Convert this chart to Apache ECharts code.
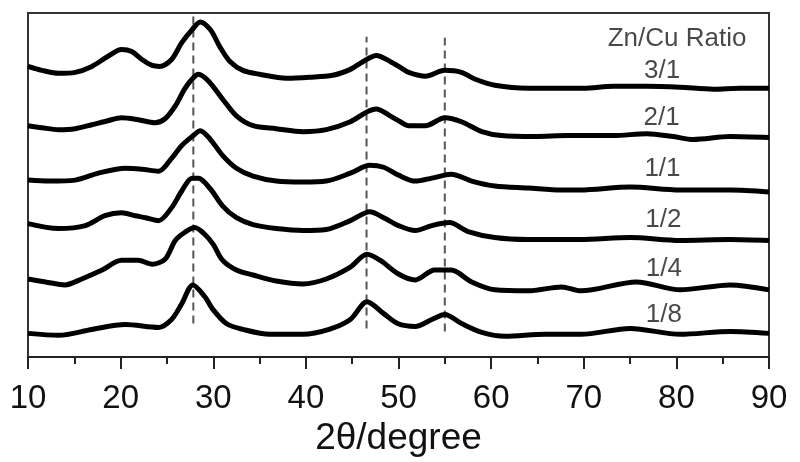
<!DOCTYPE html>
<html>
<head>
<meta charset="utf-8">
<script src="https://cdn.jsdelivr.net/npm/echarts@6/dist/echarts.min.js"></script>
<style>html,body{margin:0;padding:0;background:#fff}#c{width:800px;height:462px}</style>
</head>
<body>
<div id="c"></div>
<script>
// 2θ (degree) vs stacked intensity (offset units)
const ratio31 = [[10,294],[11.5,290],[13.3,287],[15.1,288],[16.9,294],[18.6,304],[20.1,311],[21.2,309],[22.3,301],[23.4,295],[24.2,294],[25.5,301],[26.6,318],[27.7,331],[28.6,339],[29.7,331],[30.7,314],[31.8,299],[33.2,290],[35.0,286],[37.9,282],[40.4,283],[42.9,285],[44.8,291],[46.2,299],[47.6,305],[49.1,299],[50.2,293],[51.1,288],[52.9,284],[55.0,290],[56.8,288],[58.3,281],[60.4,275],[64.0,272],[67.6,272],[70.0,272],[73.2,274],[76.8,274],[80.4,273],[84.0,271],[86.9,272],[90,272]];
const ratio21 = [[10,234],[11.5,232],[13.3,230],[15.1,231],[16.9,235],[18.6,239],[20.1,242],[21.9,240],[23.7,237],[24.8,241],[25.9,254],[26.9,271],[27.7,281],[28.4,286],[29.5,279],[31.0,261],[32.5,244],[34.3,234],[36.8,231],[39.7,228],[42.2,230],[44.8,238],[46.6,248],[47.6,251],[49.1,244],[50.2,238],[51.1,234],[52.9,234],[55.0,242],[56.8,238],[59.0,228],[61.1,224],[64.7,223],[68.3,224],[73.2,224],[76.8,226],[79.7,223],[81.8,220],[85.8,223],[90,222]];
const ratio11 = [[10,179],[12.3,178],[15.1,179],[17.6,186],[20.5,191],[22.3,190],[24.1,188],[25.5,201],[26.6,214],[27.7,223],[28.6,229],[29.7,220],[31.0,204],[32.5,191],[34.3,183],[36.8,178],[39.7,177],[42.2,178],[44.8,186],[46.9,194],[48.4,192],[50.0,184],[51.8,178],[53.6,181],[55.7,185],[57.9,178],[60.4,173],[64.0,171],[67.6,169],[69.6,169],[75.0,172],[80.4,169],[85.8,169],[90,167]];
const ratio12 = [[10,135],[13.3,130],[16.2,133],[18.3,143],[20.1,146],[21.6,143],[22.7,141],[24.1,138],[25.5,151],[26.6,168],[27.7,181],[28.4,181],[29.7,170],[31.0,153],[32.5,141],[34.3,134],[36.8,130],[39.7,128],[42.2,129],[44.8,138],[46.9,147],[48.4,141],[50.0,133],[51.8,128],[53.6,133],[55.5,136],[57.5,127],[60.4,121],[64.0,119],[67.6,119],[69.6,119],[75.0,121],[80.4,118],[85.8,119],[90,118]];
const ratio14 = [[10,79],[11.9,76],[14.0,73],[15.8,79],[18.0,88],[20.1,98],[21.9,98],[23.4,94],[24.8,99],[25.9,118],[26.9,126],[28.0,131],[29.1,124],[30.0,114],[31.0,98],[32.5,88],[34.3,83],[36.8,77],[39.7,74],[42.2,79],[44.8,91],[46.6,104],[48.0,98],[50.0,84],[51.8,78],[53.9,88],[55.7,88],[57.9,76],[60.4,68],[64.0,67],[67.6,71],[69.7,67],[75.7,76],[80.4,68],[85.8,73],[90,68]];
const ratio18 = [[10,24],[13.3,22],[16.9,28],[20.5,33],[24.1,30],[25.5,38],[26.6,54],[27.8,73],[29.1,61],[29.9,49],[31.4,34],[33.2,28],[36.1,23],[39.7,23],[42.5,28],[44.8,38],[46.6,56],[48.4,44],[49.9,34],[51.8,31],[53.6,38],[55.0,43],[56.8,34],[59.0,25],[61.5,21],[65.8,23],[69.7,23],[75.0,29],[80.4,23],[85.8,26],[90,24]];
const seriesNames = ['3/1','2/1','1/1','1/2','1/4','1/8'];
const seriesData = [ratio31, ratio21, ratio11, ratio12, ratio14, ratio18];
// reference peak positions (2θ) and the vertical span of each dashed guide
const guideX = [27.85, 46.55, 55.0];
const guideSpan = [[34,348],[29,324],[26,323]];
const xTicks = [10,20,30,40,50,60,70,80,90];
const labelTexts = ['Zn/Cu Ratio','3/1','2/1','1/1','1/2','1/4','1/8'];
const labelAnchors = [[80.07,321.5],[78.45,290],[78.4,242],[78.5,190],[78.6,139],[78.65,89.5],[78.65,43]];

const font = '"Liberation Sans", Arial, Helvetica, sans-serif';
const chart = echarts.init(document.getElementById('c'), null, {renderer: 'canvas'});
const series = [];
seriesData.forEach((d, i) => {
  series.push({
    name: seriesNames[i], type: 'line', data: d, showSymbol: false, smooth: 0.3,
    lineStyle: {color: '#000', width: 5}, z: 3, silent: true
  });
});
guideX.forEach((gx, i) => {
  series.push({
    type: 'line', data: [[gx, guideSpan[i][0]], [gx, guideSpan[i][1]]], showSymbol: false,
    lineStyle: {color: '#555', width: 2, type: [8, 5]}, z: 2, silent: true
  });
});
series.push({
  type: 'scatter', symbolSize: 0, silent: true, z: 4,
  data: labelAnchors.map((p, i) => ({value: p, name: labelTexts[i]})),
  label: {show: true, position: 'inside', formatter: p => p.name, color: '#1a1a1a',
    fontSize: 26, fontFamily: font, align: 'center', verticalAlign: 'middle'}
});
chart.setOption({
  animation: false,
  backgroundColor: '#fff',
  grid: {left: 28, right: 31, top: 13, bottom: 102, show: true, borderColor: '#333', borderWidth: 2, backgroundColor: 'transparent'},
  xAxis: {
    type: 'value', min: 10, max: 90, interval: 10,
    name: '2θ/degree', nameLocation: 'middle', nameGap: 62,
    nameTextStyle: {fontSize: 37, fontFamily: font, color: '#111'},
    axisLine: {show: true, onZero: false, lineStyle: {color: '#222', width: 2}},
    axisTick: {show: true, inside: false, length: 12, lineStyle: {color: '#222', width: 2}},
    minorTick: {show: true, splitNumber: 2, length: 7, lineStyle: {color: '#222', width: 2}},
    splitLine: {show: false},
    axisLabel: {fontSize: 33, fontFamily: font, color: '#111', margin: 25,
      formatter: v => xTicks.indexOf(v) >= 0 ? String(v) : ''}
  },
  yAxis: {type: 'value', min: 0, max: 348, show: false, splitLine: {show: false}},
  series: series
});
</script>
</body>
</html>
